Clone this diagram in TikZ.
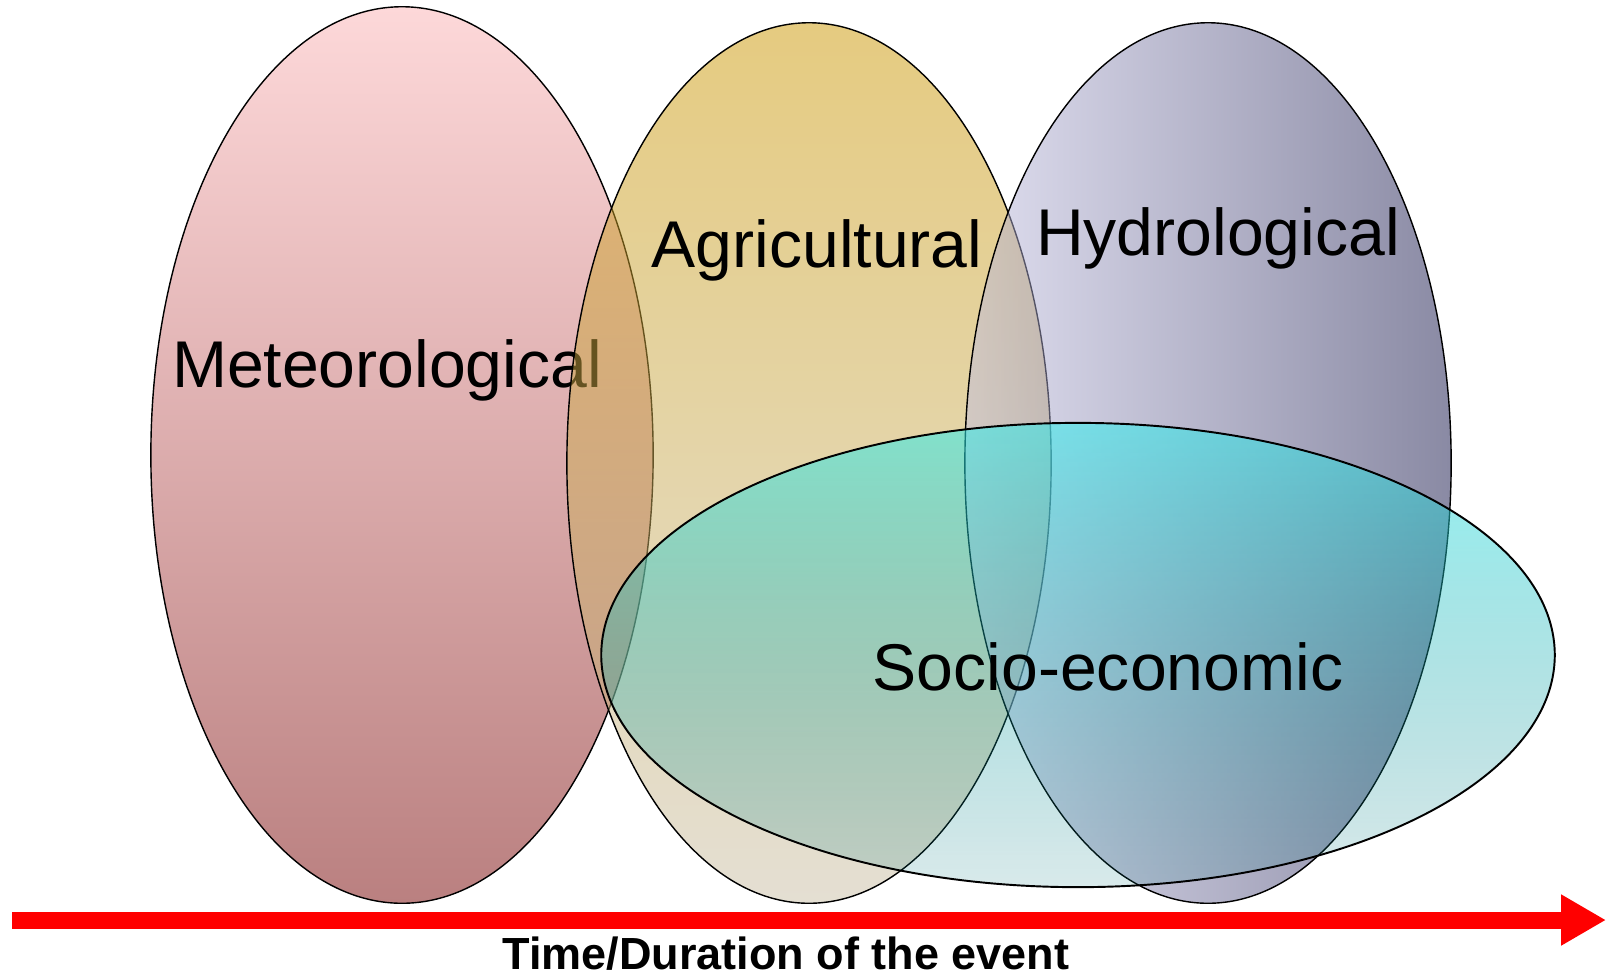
\documentclass[tikz,border=0pt]{standalone}
\usepackage{fontspec}
\setmainfont{Liberation Sans}
\usepackage{tikz}
\usetikzlibrary{arrows.meta, fadings}
\definecolor{DRmeteo1}{RGB}{253,216,217}
\definecolor{DRmeteo2}{RGB}{233,160,162}
\definecolor{DRmeteo3}{RGB}{186,128,128}
\definecolor{DRagri1}{RGB}{203,151,1}
\definecolor{DRagri2}{RGB}{201,191,167}
\definecolor{DRhydro1}{RGB}{193,191,225}
\definecolor{DRhydro2}{RGB}{21,21,73}
\definecolor{DRsocio1}{RGB}{49,237,237}
\definecolor{DRsocio2}{RGB}{12,204,206}
\definecolor{DRsocio3}{RGB}{0,115,122}
\definecolor{DRred}{RGB}{255,0,0}

\tikzfading[name=sociofade, top color=transparent!45, bottom color=transparent!85]

\tikzset{
  zone/.style={draw=black, line width=0.4pt},
  zonelabel/.style={anchor=base, font=\fontsize{18.8}{22}\selectfont},
}

\begin{document}
\begin{tikzpicture}[x=0.01cm, y=-0.01cm]
	\useasboundingbox (0, 0) rectangle (1607, 978);
	\shade[zone, top color=DRmeteo1, middle color=DRmeteo2, bottom color=DRmeteo3] (402, 455) ellipse [x radius=2.51cm, y radius=4.48cm];
	\node[zonelabel] (meteo) at (387, 387) {Meteorological};
	\shade[zone, fill opacity=0.5, top color=DRagri1, bottom color=DRagri2] (809, 463) ellipse [x radius=2.42cm, y radius=4.40cm];
	\node[zonelabel] (agri) at (817, 267) {Agricultural};
	\shade[zone, fill opacity=0.5, left color=DRhydro1, right color=DRhydro2] (1208, 463) ellipse [x radius=2.43cm, y radius=4.40cm];
	\node[zonelabel] (hydro) at (1218, 255) {Hydrological};
	\shade[path fading=sociofade, top color=DRsocio1, middle color=DRsocio2, bottom color=DRsocio3] (1078, 655) ellipse [x radius=4.765cm, y radius=2.32cm];
	\draw[zone, line width=0.55pt] (1078, 655) ellipse [x radius=4.765cm, y radius=2.32cm];
	\node[zonelabel] (socio) at (1108, 690) {Socio-economic};

	\coordinate (tstart) at (12, 920);
	\coordinate (tend) at (1606, 920);
	\draw[DRred, line width=0.17cm, -{Triangle[length=0.45cm, width=0.48cm]}] (tstart) -- (tend);
	\node[anchor=base, font=\bfseries\fontsize{12.8}{15}\selectfont] (timeaxis) at (786, 969) {Time/Duration of the event};
\end{tikzpicture}
\end{document}
